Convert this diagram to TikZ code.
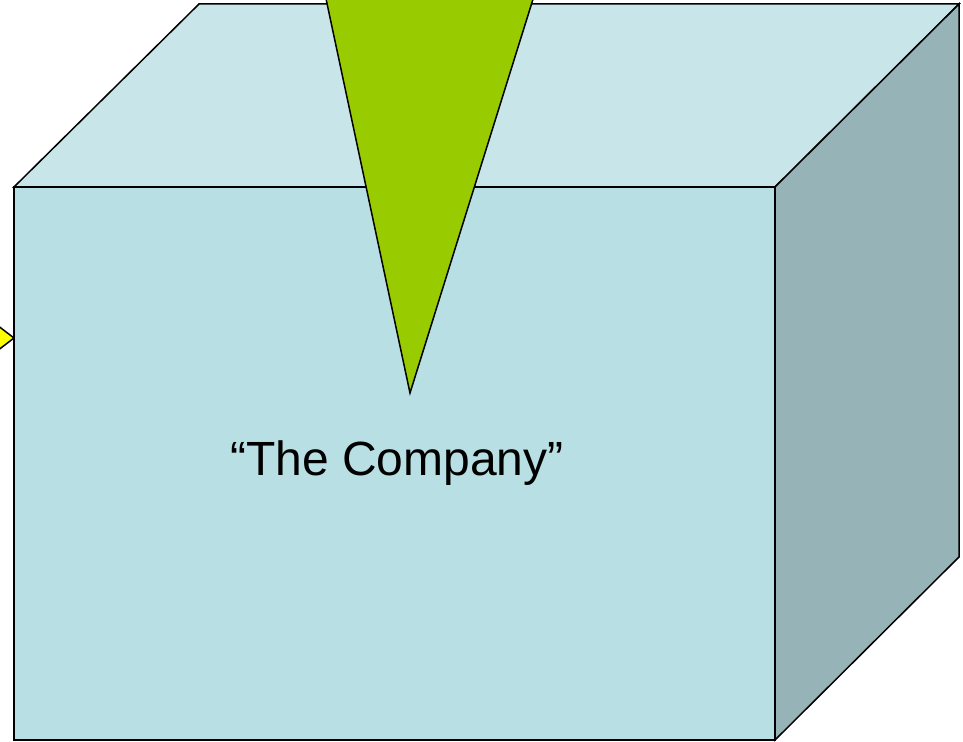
\documentclass[tikz,border=0pt]{standalone}
\usepackage{fontspec}
\setmainfont{Liberation Sans}
\definecolor{frontc}{HTML}{B8DFE3}
\definecolor{topc}{HTML}{C8E5E9}
\definecolor{sidec}{HTML}{96B3B7}
\definecolor{greenc}{HTML}{99CC00}
\definecolor{yellowc}{HTML}{FFFF00}
\begin{document}
\begin{tikzpicture}[x=1pt,y=-1pt,
  face/.style={draw=black,line width=1.5pt,line join=miter},
  label/.style={font=\fontsize{48}{56}\selectfont,text=black}]
\useasboundingbox (0,0) rectangle (963,741);
\begin{scope}
\clip (0,0) rectangle (963,741);
% yellow arrow tip (clipped at left)
\coordinate (ytip) at (14,338);
\filldraw[face,fill=yellowc] (-20,312) -- (ytip) -- (-20,364) -- cycle;
% cube
\coordinate (f1) at (14,187);
\coordinate (f2) at (775,187);
\coordinate (f3) at (775,740);
\coordinate (f4) at (14,740);
\coordinate (b1) at (199,4);
\coordinate (b2) at (959,4);
\coordinate (b3) at (959,557);
\filldraw[face,fill=topc] (f1) -- (b1) -- (b2) -- (f2) -- cycle;
\filldraw[face,fill=sidec] (f2) -- (b2) -- (b3) -- (f3) -- cycle;
\filldraw[face,fill=frontc] (f1) -- (f2) -- (f3) -- (f4) -- cycle;
% green triangle
\coordinate (gapex) at (410,393);
\coordinate (gl) at (322,-20);
\coordinate (gr) at (539,-20);
\filldraw[face,fill=greenc] (gl) -- (gapex) -- (gr) -- cycle;
\end{scope}
\node[label] (company) at (397,463) {“The Company”};
\end{tikzpicture}
\end{document}
